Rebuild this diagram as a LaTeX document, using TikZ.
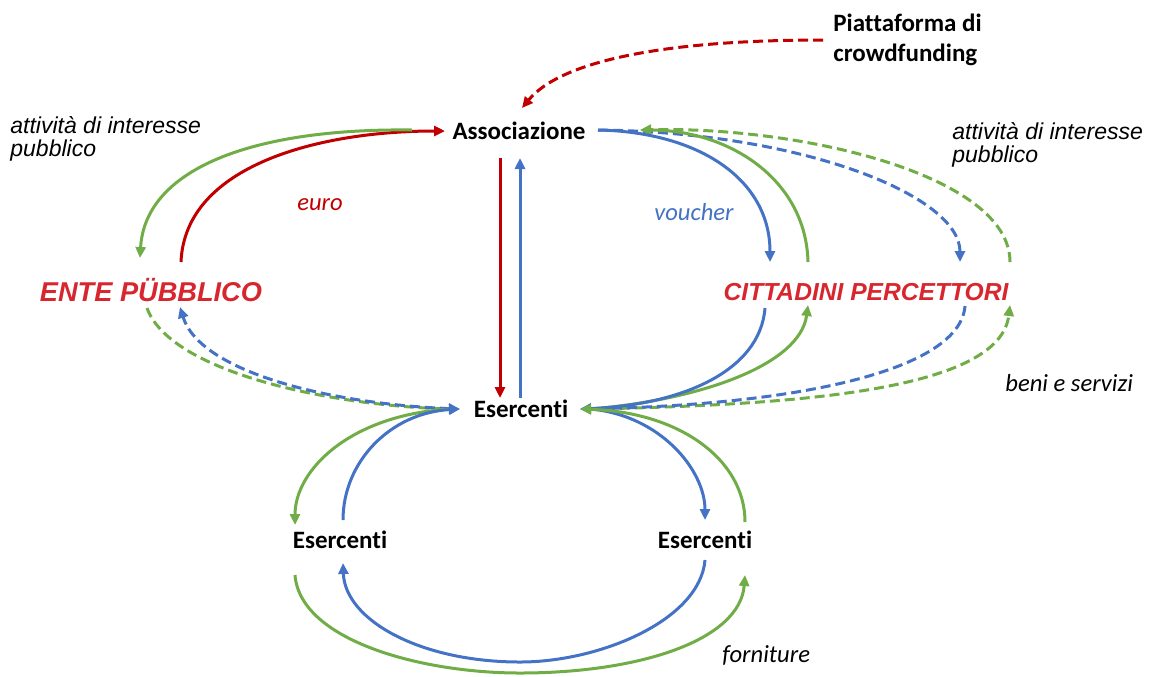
\documentclass[tikz,border=0pt]{standalone}
\usepackage{fontspec}
\setmainfont{Carlito}[Ligatures=NoCommon]
\newfontfamily\arial{Liberation Sans}
\usetikzlibrary{arrows.meta}
\definecolor{cred}{HTML}{C00000}
\definecolor{tred}{HTML}{D8262E}
\definecolor{cblue}{HTML}{4472C4}
\definecolor{cgreen}{HTML}{70AD47}
\tikzset{
  lbl/.style={font=\bfseries\fontsize{12.5}{15}\selectfont, inner sep=0pt},
  actor/.style={font=\arial\bfseries\itshape\fontsize{12.3}{14}\selectfont, text=tred, inner sep=0pt},
  note/.style={font=\arial\itshape\fontsize{11.5}{11.8}\selectfont, align=left, inner sep=0pt, anchor=west},
  flowlbl/.style={font=\itshape\fontsize{12.3}{14}\selectfont, inner sep=0pt},
  flow/.style={line width=1.5pt, -{Triangle[length=5.5pt,width=5pt]}},
  dflow/.style={flow, dash pattern=on 5pt off 2.5pt},
}
\begin{document}
\begin{tikzpicture}[x=0.5pt,y=-0.5pt]
\useasboundingbox (0,0) rectangle (1149,676);
% nodes
\node[lbl, align=left, anchor=west] (piat) at (833,40) {Piattaforma di\\crowdfunding};
\node[lbl] (ass) at (519,131) {Associazione};
\node[lbl] (es) at (521,409) {Esercenti};
\node[lbl] (esL) at (340,540) {Esercenti};
\node[lbl] (esR) at (705,540) {Esercenti};
\node[actor, font=\arial\bfseries\itshape\fontsize{13.6}{15}\selectfont] (ente) at (151,290) {ENTE PÜBBLICO};
\node[actor] (citt) at (866,292) {CITTADINI PERCETTORI};
\node[note] (attL) at (10,139) {attività di interesse\\pubblico};
\node[note] (attR) at (952,145) {attività di interesse\\pubblico};
\node[flowlbl, text=cred] (euro) at (320,205) {euro};
\node[flowlbl, text=cblue] (vouch) at (694,212) {voucher};
\node[flowlbl, anchor=west] (beni) at (1005,383) {beni e servizi};
\node[flowlbl, anchor=west] (forn) at (722,655) {forniture};
% coordinates
\coordinate (piatW) at (823,40);
\coordinate (assN) at (522,108);
\coordinate (assW) at (445,131);
\coordinate (assWg) at (412,130);
\coordinate (assEb) at (598,130);
\coordinate (assEg) at (640,130);
\coordinate (assSr) at (500,158);
\coordinate (assSb) at (520,158);
\coordinate (esNr) at (500,398);
\coordinate (esNb) at (520,398);
\coordinate (enteNr) at (181,262);
\coordinate (enteNg) at (140,258);
\coordinate (enteSg) at (147,308);
\coordinate (enteSb) at (180,307);
\coordinate (cittNb) at (770,262);
\coordinate (cittNg) at (808,262);
\coordinate (cittNbd) at (960,262);
\coordinate (cittNgd) at (1010,262);
\coordinate (cittSb) at (765,308);
\coordinate (cittSg) at (808,305);
\coordinate (cittSbd) at (965,306);
\coordinate (cittSgd) at (1010,305);
\coordinate (esE) at (580,409);
\coordinate (esE2) at (590,409);
\coordinate (esW) at (460,409);
\coordinate (esW2) at (450,409);
\coordinate (esLN) at (343,520);
\coordinate (esLNg) at (295,525);
\coordinate (esLS) at (343,563);
\coordinate (esLSg) at (295,575);
\coordinate (esRN) at (705,520);
\coordinate (esRNg) at (745,522);
\coordinate (esRS) at (705,560);
\coordinate (esRSg) at (745,575);
% top
\draw[dflow, cred] (piatW) .. controls (660,40) and (560,62) .. (assN);
\draw[flow, cred] (enteNr) .. controls (185,165) and (320,131) .. (assW);
\draw[flow, cgreen] (assWg) .. controls (250,128) and (145,170) .. (enteNg);
\draw[flow, cred] (assSr) -- (esNr);
\draw[flow, cblue] (esNb) -- (assSb);
% right upper
\draw[dflow, cgreen] (cittNgd) .. controls (1010,175) and (800,126) .. (assEg);
\draw[dflow, cblue] (assEb) .. controls (800,132) and (960,195) .. (cittNbd);
\draw[flow, cgreen] (cittNg) .. controls (806,180) and (730,130) .. (assEg);
\draw[flow, cblue] (assEb) .. controls (700,132) and (770,180) .. (cittNb);
% right lower
\draw[dflow, cgreen] (esE2) .. controls (800,405) and (1000,390) .. (cittSgd);
\draw[dflow, cblue] (cittSbd) .. controls (960,370) and (800,405) .. (esE);
\draw[flow, cgreen] (esE2) .. controls (700,400) and (800,365) .. (cittSg);
\draw[flow, cblue] (cittSb) .. controls (760,372) and (680,405) .. (esE);
% left lower
\draw[line width=1.5pt, cgreen, dash pattern=on 5pt off 2.5pt] (enteSg) .. controls (170,372) and (330,406) .. (esW2);
\draw[dflow, cblue, {Triangle[length=5.5pt,width=5pt]}-{Triangle[length=5.5pt,width=5pt]}] (esW) .. controls (330,404) and (200,372) .. (enteSb);
% lower loop
\draw[flow, cgreen] (esW2) .. controls (350,415) and (295,470) .. (esLNg);
\draw[flow, cblue] (esLN) .. controls (343,462) and (390,413) .. (esW);
\draw[flow, cblue] (esE2) .. controls (660,415) and (705,470) .. (esRN);
\draw[flow, cgreen] (esRNg) .. controls (745,460) and (680,412) .. (esE);
\draw[flow, cblue] (esRS) .. controls (700,620) and (600,662) .. (520,662) .. controls (420,662) and (345,620) .. (esLS);
\draw[flow, cgreen] (esLSg) .. controls (300,640) and (420,673) .. (520,673) .. controls (640,673) and (740,640) .. (esRSg);
\end{tikzpicture}
\end{document}
